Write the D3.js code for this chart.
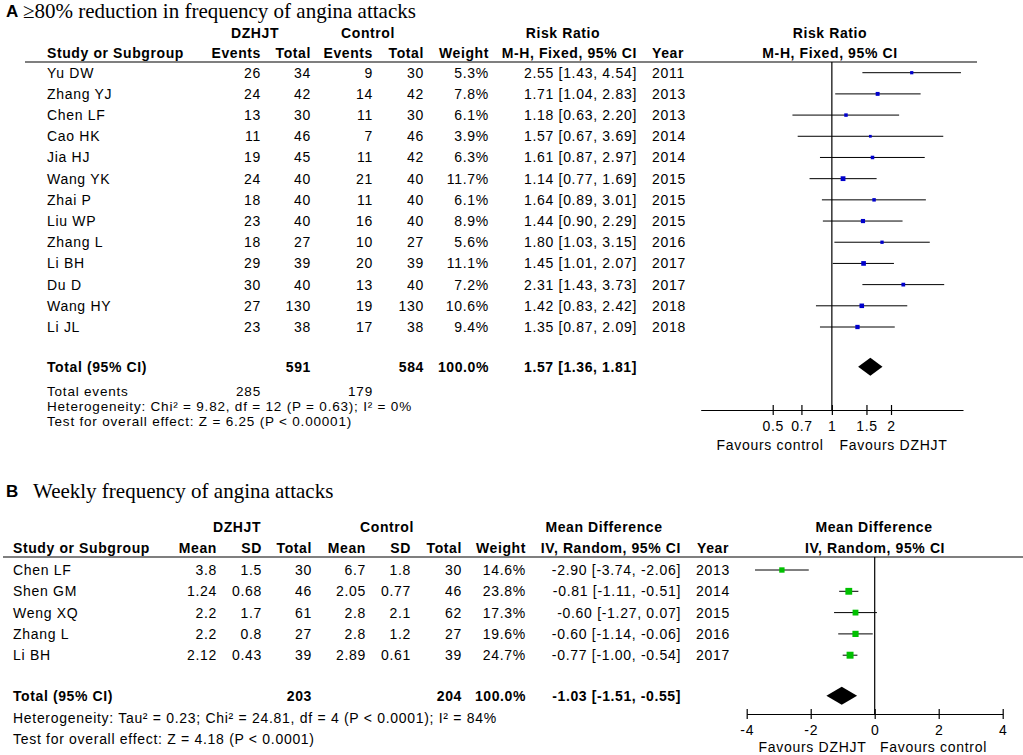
<!DOCTYPE html>
<html>
<head>
<meta charset="utf-8">
<script src="https://cdn.jsdelivr.net/npm/d3@7"></script>
<style>
  html, body { margin: 0; padding: 0; background: #fff; }
  svg { display: block; }
  text { font-family: "Liberation Sans", Arial, sans-serif; font-size: 14px; letter-spacing: 0.7px; fill: #000; }
  .b { font-weight: bold; letter-spacing: 0.6px; }
  .serif { font-family: "Liberation Serif", "Times New Roman", serif; font-size: 21px; letter-spacing: 0; }
  .panel { font-size: 17px; letter-spacing: 0; }
  .foot { font-size: 13.5px; letter-spacing: 0.8px; }
</style>
</head>
<body>
<svg id="chart" width="1023" height="755"></svg>
<script>
// Panel A: >=80% reduction in frequency of angina attacks (risk ratio, fixed)
const studiesA   = ["Yu DW", "Zhang YJ", "Chen LF", "Cao HK", "Jia HJ", "Wang YK", "Zhai P", "Liu WP", "Zhang L", "Li BH", "Du D", "Wang HY", "Li JL"];
const eventsA    = [26, 24, 13, 11, 19, 24, 18, 23, 18, 29, 30, 27, 23];
const totalA     = [34, 42, 30, 46, 45, 40, 40, 40, 27, 39, 40, 130, 38];
const ctlEventsA = [9, 14, 11, 7, 11, 21, 11, 16, 10, 20, 13, 19, 17];
const ctlTotalA  = [30, 42, 30, 46, 42, 40, 40, 40, 27, 39, 40, 130, 38];
const weightA    = [5.3, 7.8, 6.1, 3.9, 6.3, 11.7, 6.1, 8.9, 5.6, 11.1, 7.2, 10.6, 9.4];
const rrA        = [2.55, 1.71, 1.18, 1.57, 1.61, 1.14, 1.64, 1.44, 1.80, 1.45, 2.31, 1.42, 1.35];
const lowA       = [1.43, 1.04, 0.63, 0.67, 0.87, 0.77, 0.89, 0.90, 1.03, 1.01, 1.43, 0.83, 0.87];
const highA      = [4.54, 2.83, 2.20, 3.69, 2.97, 1.69, 3.01, 2.29, 3.15, 2.07, 3.73, 2.42, 2.09];
const yearA      = [2011, 2013, 2013, 2014, 2014, 2015, 2015, 2015, 2016, 2017, 2017, 2018, 2018];
const pooledA    = [1.57, 1.36, 1.81];
const ticksA     = [0.5, 0.7, 1, 1.5, 2];

// Panel B: weekly frequency of angina attacks (mean difference, random)
const studiesB = ["Chen LF", "Shen GM", "Weng XQ", "Zhang L", "Li BH"];
const meanB    = [3.8, 1.24, 2.2, 2.2, 2.12];
const sdB      = [1.5, 0.68, 1.7, 0.8, 0.43];
const nB       = [30, 46, 61, 27, 39];
const meanC    = [6.7, 2.05, 2.8, 2.8, 2.89];
const sdC      = [1.8, 0.77, 2.1, 1.2, 0.61];
const nC       = [30, 46, 62, 27, 39];
const weightB  = [14.6, 23.8, 17.3, 19.6, 24.7];
const mdB      = [-2.90, -0.81, -0.60, -0.60, -0.77];
const lowB     = [-3.74, -1.11, -1.27, -1.14, -1.00];
const highB    = [-2.06, -0.51, 0.07, -0.06, -0.54];
const yearB    = [2013, 2014, 2015, 2016, 2017];
const pooledB  = [-1.03, -1.51, -0.55];
const ticksB   = [-4, -2, 0, 2, 4];

const svg = d3.select("#chart");
const f2 = (v) => v.toFixed(2);
const ci = (e, l, h) => `${f2(e)} [${f2(l)}, ${f2(h)}]`;

function txt(x, y, s, anchor, cls) {
  return svg.append("text").attr("x", x).attr("y", y).attr("dy", "0.35em")
    .attr("text-anchor", anchor || "start").attr("class", cls || null).text(s);
}
function hline(x1, x2, y) {
  svg.append("line").attr("x1", x1).attr("x2", x2).attr("y1", y).attr("y2", y)
    .attr("stroke", "#000").attr("stroke-width", 1.2);
}
function diamond(x, y, v) {
  const [e, l, h] = v;
  svg.append("path")
    .attr("d", `M${x(l)},${y}L${x(e)},${y - 9}L${x(h)},${y}L${x(e)},${y + 9}Z`)
    .attr("fill", "#000");
}
function squares(x, y, est, lo, hi, w, color) {
  const g = svg.append("g");
  est.forEach((e, i) => {
    g.append("line").attr("x1", x(lo[i])).attr("x2", x(hi[i]))
      .attr("y1", y(i)).attr("y2", y(i)).attr("stroke", "#000").attr("stroke-width", 1);
    const s = Math.sqrt(w[i]) * 1.4;
    g.append("rect").attr("x", x(e) - s / 2).attr("y", y(i) - s / 2)
      .attr("width", s).attr("height", s).attr("fill", color);
  });
}
function axis(x, y, ticks, fmt) {
  const ax = svg.append("g").attr("transform", `translate(0,${y})`)
    .call(d3.axisBottom(x).tickValues(ticks).tickFormat(fmt).tickSize(5).tickSizeOuter(0));
  ax.attr("font-size", null).attr("font-family", null);
  ax.select(".domain").attr("stroke", "#000").attr("stroke-width", 1.2);
  ax.selectAll(".tick line").attr("y1", -5).attr("y2", 5).attr("stroke-width", 1.2);
  ax.selectAll(".tick text").attr("y", 16).attr("dy", "0.35em").attr("fill", "#000");
}

// ---------------- Panel A ----------------
txt(6, 11, "A", "start", "b panel");
txt(23, 11, "\u226580% reduction in frequency of angina attacks", "start", "serif");

[["DZHJT", 255], ["Control", 368], ["Risk Ratio", 563], ["Risk Ratio", 830]]
  .forEach(([s, x]) => txt(x, 33, s, "middle", "b"));
txt(47, 53, "Study or Subgroup", "start", "b");
[["Events", 261], ["Total", 311], ["Events", 373], ["Total", 424], ["Weight", 489], ["M-H, Fixed, 95% CI", 637]]
  .forEach(([s, x]) => txt(x, 53, s, "end", "b"));
txt(652, 53, "Year", "start", "b");
txt(830, 53, "M-H, Fixed, 95% CI", "middle", "b");
hline(25, 977, 62);

const yA = d3.scaleLinear().domain([0, studiesA.length - 1]).range([72.7, 327]);
studiesA.forEach((s, i) => {
  const y = yA(i);
  txt(47, y, s);
  txt(261, y, eventsA[i], "end");
  txt(311, y, totalA[i], "end");
  txt(373, y, ctlEventsA[i], "end");
  txt(424, y, ctlTotalA[i], "end");
  txt(489, y, weightA[i].toFixed(1) + "%", "end");
  txt(637, y, ci(rrA[i], lowA[i], highA[i]), "end");
  txt(652, y, yearA[i]);
});

const totY = 366.7;
txt(47, totY, "Total (95% CI)", "start", "b");
txt(311, totY, d3.sum(totalA), "end", "b");
txt(424, totY, d3.sum(ctlTotalA), "end", "b");
txt(489, totY, "100.0%", "end", "b");
txt(637, totY, ci(...pooledA), "end", "b");
txt(47, 391.5, "Total events", "start", "foot");
txt(261, 391.5, d3.sum(eventsA), "end", "foot");
txt(373, 391.5, d3.sum(ctlEventsA), "end", "foot");
txt(47, 406.5, "Heterogeneity: Chi\u00b2 = 9.82, df = 12 (P = 0.63); I\u00b2 = 0%", "start", "foot");
txt(47, 421.5, "Test for overall effect: Z = 6.25 (P < 0.00001)", "start", "foot");

const xA = d3.scaleLog().domain([0.215, 4.65]).range([700.7, 963]);
svg.append("line").attr("x1", xA(1)).attr("x2", xA(1)).attr("y1", 62).attr("y2", 410)
  .attr("stroke", "#000").attr("stroke-width", 1.2);
squares(xA, yA, rrA, lowA, highA, weightA, "#0000cc");
diamond(xA, totY, pooledA);
axis(xA, 410, ticksA, (d) => String(d));
txt(770, 445, "Favours control", "middle");
txt(893.5, 445, "Favours DZHJT", "middle");

// ---------------- Panel B ----------------
txt(6, 491, "B", "start", "b panel");
txt(33, 491, "Weekly frequency of angina attacks", "start", "serif");

[["DZHJT", 237], ["Control", 387], ["Mean Difference", 604], ["Mean Difference", 874]]
  .forEach(([s, x]) => txt(x, 527, s, "middle", "b"));
txt(13, 548, "Study or Subgroup", "start", "b");
[["Mean", 217], ["SD", 262], ["Total", 312], ["Mean", 366], ["SD", 411], ["Total", 462], ["Weight", 526], ["IV, Random, 95% CI", 681]]
  .forEach(([s, x]) => txt(x, 548, s, "end", "b"));
txt(697, 548, "Year", "start", "b");
txt(875, 548, "IV, Random, 95% CI", "middle", "b");
hline(3, 1023, 557);

const yB = d3.scaleLinear().domain([0, studiesB.length - 1]).range([570, 655.2]);
studiesB.forEach((s, i) => {
  const y = yB(i);
  txt(13, y, s);
  txt(217, y, String(meanB[i]), "end");
  txt(262, y, String(sdB[i]), "end");
  txt(312, y, nB[i], "end");
  txt(366, y, String(meanC[i]), "end");
  txt(411, y, String(sdC[i]), "end");
  txt(462, y, nC[i], "end");
  txt(526, y, weightB[i].toFixed(1) + "%", "end");
  txt(681, y, ci(mdB[i], lowB[i], highB[i]), "end");
  txt(696, y, yearB[i]);
});

const totYB = 695.7;
txt(13, totYB, "Total (95% CI)", "start", "b");
txt(312, totYB, d3.sum(nB), "end", "b");
txt(462, totYB, d3.sum(nC), "end", "b");
txt(526, totYB, "100.0%", "end", "b");
txt(681, totYB, ci(...pooledB), "end", "b");
txt(13, 717.7, "Heterogeneity: Tau\u00b2 = 0.23; Chi\u00b2 = 24.81, df = 4 (P < 0.0001); I\u00b2 = 84%");
txt(13, 739, "Test for overall effect: Z = 4.18 (P < 0.0001)");

const xB = d3.scaleLinear().domain([-4, 4]).range([746.7, 1002.7]);
svg.append("line").attr("x1", xB(0)).attr("x2", xB(0)).attr("y1", 557).attr("y2", 714)
  .attr("stroke", "#000").attr("stroke-width", 1.2);
squares(xB, yB, mdB, lowB, highB, weightB, "#00c000");
diamond(xB, totYB, pooledB);
axis(xB, 714, ticksB, (d) => String(d));
txt(812.5, 746.7, "Favours DZHJT", "middle");
txt(933.5, 746.7, "Favours control", "middle");
</script>
</body>
</html>
